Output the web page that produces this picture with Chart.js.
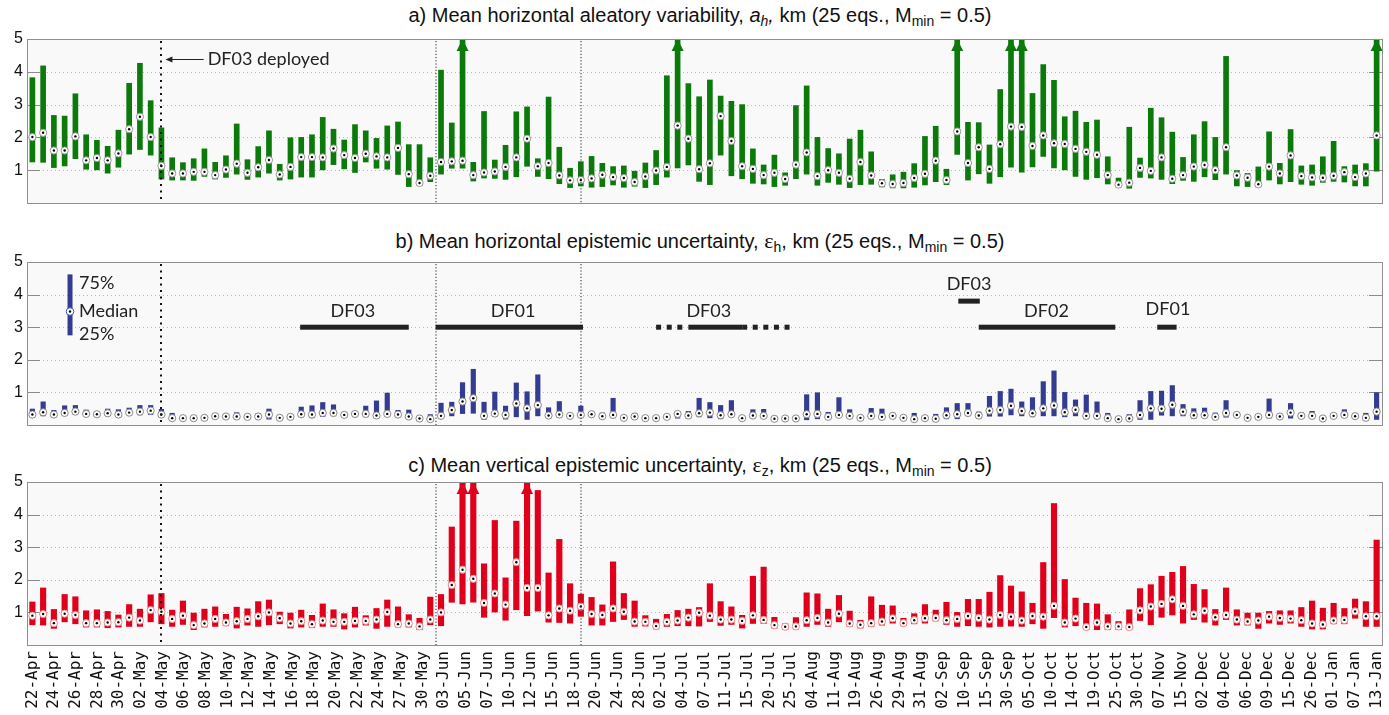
<!DOCTYPE html>
<html>
<head>
<meta charset="utf-8">
<script src="https://cdn.jsdelivr.net/npm/chart.js@4.4.1/dist/chart.umd.min.js"></script>
<style>
body{margin:0;background:#fff;width:1389px;height:715px;overflow:hidden;position:relative;font-family:'Liberation Sans',Arial,sans-serif}
.ttl{position:absolute;left:0;width:1400px;text-align:center;font-size:20px;color:#111;line-height:24px;white-space:nowrap}
.ttl sub{font-size:70%;vertical-align:-4px;line-height:0}
.eps{font-family:'Liberation Serif','Times New Roman',serif;font-size:22px}
.box{position:absolute;left:0;width:1389px}
</style>
</head>
<body>
<div class="ttl" style="top:3px">a) Mean horizontal aleatory variability, <i>a<sub>h</sub>,</i> km (25 eqs., M<sub>min</sub> = 0.5)</div>
<div class="ttl" style="top:229px">b) Mean horizontal epistemic uncertainty, <span class="eps">ε</span><sub>h</sub>, km (25 eqs., M<sub>min</sub> = 0.5)</div>
<div class="ttl" style="top:453px">c) Mean vertical epistemic uncertainty, <span class="eps">ε</span><sub>z</sub>, km (25 eqs., M<sub>min</sub> = 0.5)</div>
<div class="box" style="top:31px;height:180px"><canvas id="cA" width="1389" height="180"></canvas></div>
<div class="box" style="top:254px;height:179px"><canvas id="cB" width="1389" height="179"></canvas></div>
<div class="box" style="top:474px;height:241px"><canvas id="cC" width="1389" height="241"></canvas></div>
<script>
// tick labels, spread evenly from the first to the last bar
const tickLabels = ['22-Apr','24-Apr','26-Apr','28-Apr','30-Apr','02-May','04-May','06-May','08-May','10-May',
  '12-May','14-May','16-May','18-May','20-May','22-May','24-May','27-May','30-May','03-Jun',
  '05-Jun','07-Jun','10-Jun','12-Jun','15-Jun','18-Jun','20-Jun','24-Jun','28-Jun','02-Jul',
  '04-Jul','07-Jul','11-Jul','15-Jul','20-Jul','25-Jul','04-Aug','11-Aug','19-Aug','26-Aug',
  '29-Aug','31-Aug','02-Sep','10-Sep','15-Sep','30-Sep','05-Oct','10-Oct','14-Oct','19-Oct',
  '25-Oct','30-Oct','07-Nov','15-Nov','02-Dec','04-Dec','06-Dec','09-Dec','15-Dec','26-Dec',
  '01-Jan','07-Jan','13-Jan'];
const yTicks = [1,2,3,4,5];

// a) aleatory variability a_h : 25%, median, 75%  (values above 5 are drawn as arrows)
const ahLo = [1.25,1.24,1.08,1.13,1.35,1.03,1.01,0.91,1.09,1.49,1.63,1.46,0.73,0.70,0.70,0.69,0.81,0.73,0.78,0.88,
  0.72,0.79,0.91,0.70,0.73,0.79,0.79,1.01,1.17,1.04,0.93,1.25,1.06,1.03,0.87,0.50,0.53,0.65,0.88,1.06,
  1.06,0.67,0.76,0.75,0.72,0.80,1.12,0.81,0.74,0.59,0.47,0.52,0.48,0.50,0.55,0.48,0.51,0.47,0.56,0.79,
  1.07,1.16,0.66,0.56,1.46,0.83,0.74,0.60,0.58,0.50,0.54,0.74,0.88,0.54,0.63,0.57,0.47,0.56,0.57,0.49,
  0.46,0.46,0.48,0.55,0.65,0.56,1.48,0.70,0.89,0.60,0.80,1.09,0.94,1.10,1.42,1.07,1.01,0.81,0.72,0.77,
  0.58,0.49,0.45,0.78,0.76,0.72,0.59,0.69,0.66,0.80,0.71,0.88,0.52,0.50,0.49,0.70,0.58,0.65,0.57,0.54,
  0.63,0.66,0.64,0.52,0.52,0.97];
const ahMed = [2.01,2.14,1.60,1.60,2.03,1.30,1.37,1.30,1.51,2.25,2.63,2.01,1.13,0.90,0.90,0.95,0.95,0.85,1.02,1.20,
  0.92,1.09,1.31,0.87,1.10,1.40,1.40,1.39,1.66,1.46,1.37,1.50,1.42,1.39,1.68,0.88,0.61,0.83,1.25,1.27,
  1.29,0.85,0.93,0.96,1.10,1.39,1.96,1.12,1.22,0.84,0.69,0.70,0.75,0.86,0.79,0.76,0.64,0.81,0.99,1.10,
  2.36,1.96,1.03,1.21,2.65,1.89,1.12,1.04,0.85,0.92,0.73,1.17,1.54,0.82,1.00,0.92,0.74,1.25,0.84,0.60,
  0.58,0.61,0.76,0.89,1.29,0.70,2.18,1.22,1.70,1.04,1.79,2.33,2.32,1.74,2.06,1.82,1.80,1.65,1.56,1.47,
  0.85,0.56,0.62,1.07,0.98,1.39,0.74,0.85,1.11,1.16,1.00,1.70,0.84,0.77,0.57,1.11,0.90,1.45,0.82,0.78,
  0.77,0.83,0.94,0.79,0.90,2.06];
const ahHi = [3.82,4.18,2.67,2.65,3.33,2.08,1.91,1.73,2.22,3.65,4.26,3.12,2.29,1.38,1.23,1.35,1.65,1.24,1.44,2.41,
  1.32,1.72,2.20,1.18,1.99,2.00,2.08,2.61,2.25,1.92,2.39,2.20,1.97,2.35,2.47,1.78,1.78,1.38,4.05,2.44,
  6,1.24,2.79,1.31,1.76,2.78,2.93,1.35,3.23,1.70,1.06,1.26,1.42,1.21,1.11,1.13,0.97,1.22,1.60,3.88,
  6,3.64,3.24,3.75,3.26,3.10,3.00,1.65,1.16,1.46,0.92,2.97,3.57,2.00,1.66,1.50,1.95,2.22,1.56,0.72,
  0.86,0.94,1.20,2.03,2.34,1.03,6,2.46,2.45,1.77,3.46,6,6,3.34,4.22,3.74,2.63,2.80,2.46,2.53,
  1.41,0.76,2.31,1.37,2.89,2.60,2.16,1.39,2.08,2.48,2.00,4.47,0.99,0.90,1.10,2.17,1.21,2.24,1.13,1.16,
  1.41,1.88,1.11,1.16,1.20,6];

// b) horizontal epistemic uncertainty eps_h
const ehLo = [0.28,0.28,0.28,0.30,0.32,0.28,0.27,0.28,0.28,0.31,0.31,0.32,0.26,0.14,0.18,0.18,0.19,0.22,0.22,0.19,
  0.22,0.21,0.18,0.19,0.22,0.25,0.22,0.26,0.28,0.25,0.25,0.25,0.22,0.27,0.25,0.20,0.17,0.14,0.21,0.28,
  0.35,0.36,0.17,0.26,0.18,0.25,0.17,0.28,0.21,0.24,0.25,0.25,0.25,0.23,0.22,0.19,0.22,0.18,0.18,0.22,
  0.21,0.21,0.25,0.22,0.19,0.25,0.18,0.22,0.21,0.16,0.17,0.14,0.16,0.19,0.18,0.24,0.21,0.19,0.21,0.20,
  0.25,0.19,0.13,0.18,0.16,0.19,0.19,0.28,0.20,0.27,0.27,0.31,0.28,0.25,0.28,0.28,0.25,0.28,0.19,0.19,
  0.16,0.15,0.17,0.17,0.17,0.30,0.28,0.28,0.20,0.22,0.20,0.24,0.28,0.19,0.22,0.21,0.23,0.21,0.22,0.22,
  0.17,0.25,0.23,0.22,0.14,0.17];
const ehMed = [0.32,0.39,0.32,0.37,0.41,0.34,0.33,0.36,0.32,0.38,0.41,0.44,0.32,0.21,0.21,0.21,0.22,0.27,0.26,0.26,
  0.25,0.26,0.32,0.22,0.25,0.33,0.32,0.37,0.37,0.31,0.34,0.34,0.29,0.34,0.32,0.26,0.20,0.18,0.28,0.46,
  0.72,0.82,0.28,0.35,0.31,0.66,0.51,0.61,0.29,0.32,0.28,0.31,0.33,0.27,0.31,0.22,0.26,0.21,0.21,0.25,
  0.34,0.29,0.36,0.38,0.30,0.33,0.21,0.29,0.28,0.19,0.20,0.20,0.33,0.34,0.25,0.31,0.28,0.22,0.28,0.25,
  0.28,0.22,0.18,0.21,0.19,0.30,0.33,0.37,0.29,0.44,0.46,0.59,0.43,0.36,0.51,0.60,0.39,0.47,0.28,0.28,
  0.21,0.18,0.20,0.31,0.51,0.50,0.62,0.41,0.30,0.30,0.25,0.37,0.31,0.22,0.25,0.31,0.26,0.38,0.28,0.28,
  0.20,0.28,0.31,0.27,0.22,0.41];
const ehHi = [0.49,0.71,0.45,0.59,0.60,0.46,0.40,0.49,0.47,0.52,0.60,0.60,0.48,0.36,0.24,0.24,0.25,0.35,0.32,0.38,
  0.31,0.35,0.49,0.29,0.28,0.55,0.59,0.69,0.62,0.37,0.41,0.58,0.74,0.98,0.45,0.46,0.23,0.32,0.67,0.70,
  1.30,1.71,0.70,1.01,0.58,1.29,1.02,1.54,0.53,0.72,0.31,0.58,0.40,0.37,0.82,0.25,0.36,0.24,0.24,0.28,
  0.41,0.42,0.82,0.69,0.60,0.75,0.24,0.47,0.48,0.22,0.23,0.23,0.93,0.99,0.39,0.84,0.47,0.25,0.51,0.49,
  0.31,0.25,0.36,0.24,0.33,0.53,0.66,0.66,0.40,0.88,1.03,1.10,0.71,0.84,1.33,1.66,1.00,0.77,0.92,0.71,
  0.36,0.21,0.32,0.75,1.03,1.04,1.21,0.63,0.50,0.52,0.37,0.75,0.39,0.25,0.28,0.80,0.29,0.66,0.37,0.42,
  0.23,0.35,0.47,0.36,0.36,0.99];

// c) vertical epistemic uncertainty eps_z
const ezLo = [0.62,0.61,0.51,0.71,0.65,0.55,0.55,0.53,0.55,0.57,0.57,0.71,0.65,0.57,0.63,0.47,0.55,0.57,0.59,0.52,
  0.61,0.57,0.62,0.65,0.52,0.55,0.53,0.57,0.57,0.49,0.55,0.61,0.51,0.57,0.55,0.55,0.47,0.62,0.59,1.31,
  1.26,1.31,0.85,1.01,0.76,1.08,0.90,1.04,0.70,0.69,0.67,0.88,0.61,0.61,0.72,0.78,0.57,0.58,0.49,0.57,
  0.59,0.59,0.58,0.72,0.60,0.63,0.52,0.66,0.66,0.52,0.47,0.49,0.57,0.63,0.57,0.71,0.57,0.52,0.57,0.61,
  0.67,0.59,0.65,0.67,0.74,0.63,0.57,0.59,0.57,0.55,0.57,0.58,0.57,0.65,0.51,0.84,0.55,0.59,0.47,0.47,
  0.47,0.47,0.47,0.75,0.62,0.85,0.92,0.67,0.78,0.70,0.61,0.78,0.61,0.61,0.51,0.67,0.63,0.67,0.57,0.49,
  0.49,0.65,0.65,0.82,0.57,0.57];
const ezMed = [0.90,0.95,0.67,0.96,0.92,0.67,0.67,0.69,0.70,0.84,0.75,1.07,1.02,0.80,0.90,0.61,0.66,0.80,0.69,0.73,
  0.80,0.88,1.00,0.82,0.66,0.73,0.64,0.75,0.71,0.71,0.74,0.74,0.78,1.01,0.64,0.66,0.57,0.78,1.00,1.84,
  2.31,2.03,1.29,1.58,1.24,2.54,1.75,1.75,0.91,1.12,1.05,1.18,0.95,0.92,1.12,1.02,0.72,0.71,0.58,0.71,
  0.75,0.84,0.99,0.90,0.78,0.78,0.74,0.91,0.77,0.61,0.56,0.57,0.76,0.83,0.69,0.96,0.66,0.62,0.67,0.72,
  0.82,0.67,0.76,0.82,0.83,0.76,0.80,0.89,0.83,0.78,0.92,0.87,0.75,0.89,0.87,1.20,0.69,0.81,0.55,0.69,
  0.57,0.57,0.55,1.06,1.18,1.26,1.40,1.20,0.94,1.05,0.85,0.92,0.78,0.72,0.75,0.87,0.83,0.81,0.76,0.66,
  0.63,0.75,0.77,1.03,0.88,0.88];
const ezHi = [1.32,1.75,1.09,1.55,1.48,1.05,1.08,1.03,0.92,1.24,1.10,1.54,1.58,1.07,1.35,0.98,1.10,1.17,0.94,1.16,
  1.11,1.33,1.38,1.01,0.98,1.07,0.91,1.26,1.08,0.96,1.16,0.90,1.12,1.38,1.17,0.93,0.82,1.47,1.55,3.62,
  6,6,2.49,3.82,2.06,3.80,6,4.74,2.21,3.24,1.88,1.56,1.46,1.23,2.55,1.58,1.35,0.90,0.79,0.94,
  1.06,1.10,1.15,1.88,1.33,1.17,0.91,2.11,2.39,0.85,0.65,0.84,1.60,1.57,1.10,1.52,1.04,0.76,1.48,1.22,
  1.20,0.82,0.96,1.24,1.07,1.31,1.00,1.40,1.40,1.62,2.13,1.81,1.63,1.28,2.53,4.34,2.01,1.44,1.28,1.26,
  0.93,0.72,1.08,1.73,1.85,2.11,2.23,2.41,1.86,1.70,1.09,1.75,1.08,0.98,0.98,1.03,1.05,1.05,1.15,1.35,
  1.13,1.28,1.12,1.41,1.33,3.22];

// period markers (bar index) and station annotations for panel b
const markerLines = [12, 37.5, 51];
const stationBars = [
  {from:24.9, to:35.0, y:3.0, dash:false},
  {from:37.5, to:51.2, y:3.0, dash:false},
  {from:58.0, to:61.0, y:3.0, dash:true},
  {from:61.0, to:66.0, y:3.0, dash:false},
  {from:66.0, to:71.0, y:3.0, dash:true},
  {from:86.1, to:88.1, y:3.8, dash:false},
  {from:88.0, to:100.7, y:3.0, dash:false},
  {from:104.6, to:106.4, y:3.0, dash:false}
];
const stationLabels = [
  {x:29.8, y:3.48, text:'DF03'},
  {x:44.7, y:3.48, text:'DF01'},
  {x:62.9, y:3.48, text:'DF03'},
  {x:87.1, y:4.33, text:'DF03'},
  {x:94.3, y:3.48, text:'DF02'},
  {x:105.6, y:3.55, text:'DF01'}
];

const YMAX = 5;
const NBARS = ahLo.length;
const labelFont = '18px Lato, "Open Sans", sans-serif';

function framePlugin(extra) {
  return {
    id: 'frame',
    beforeDatasetsDraw(c) {
      const {ctx, chartArea: a} = c;
      const y = c.scales.y;
      ctx.save();
      ctx.fillStyle = '#f9f9f9';
      ctx.fillRect(a.left, a.top, a.width, a.height);
      ctx.lineWidth = 1;
      ctx.strokeStyle = '#b8b8b8';
      ctx.setLineDash([1, 3]);
      yTicks.forEach(v => {
        if (v >= YMAX) return;
        const py = Math.round(y.getPixelForValue(v)) + 0.5;
        ctx.beginPath(); ctx.moveTo(a.left, py); ctx.lineTo(a.right, py); ctx.stroke();
      });
      ctx.setLineDash([]);
      ctx.strokeStyle = '#8a8a8a';
      yTicks.forEach(v => {
        const py = Math.round(y.getPixelForValue(v)) + 0.5;
        ctx.beginPath();
        ctx.moveTo(a.left, py); ctx.lineTo(a.left + 13, py);
        ctx.moveTo(a.right, py); ctx.lineTo(a.right - 13, py);
        ctx.stroke();
      });
      ctx.restore();
    },
    afterDatasetsDraw(c) {
      const {ctx, chartArea: a} = c;
      const x = c.scales.x;
      ctx.save();
      // period marker lines
      markerLines.forEach((m, k) => {
        const px = Math.round(x.getPixelForValue(m));
        ctx.fillStyle = k === 0 ? '#111' : '#444';
        const step = k === 0 ? 6.5 : 3.2;
        const sz = k === 0 ? 2 : 1.2;
        for (let py = a.top + 2; py < a.bottom; py += step) ctx.fillRect(px - sz / 2, py, sz, sz);
      });
      // arrows for values beyond the axis
      const ds = c.data.datasets[2];
      ctx.fillStyle = ds.backgroundColor;
      ds.data.forEach(d => {
        if (d.y[1] > YMAX) {
          const px = x.getPixelForValue(d.x);
          ctx.beginPath();
          ctx.moveTo(px, a.top);
          ctx.lineTo(px - 6, a.top + 12);
          ctx.lineTo(px + 6, a.top + 12);
          ctx.closePath(); ctx.fill();
        }
      });
      if (extra) extra(c);
      // frame
      ctx.strokeStyle = '#8f8f8f';
      ctx.lineWidth = 1;
      ctx.strokeRect(Math.round(a.left) + 0.5, Math.round(a.top) + 0.5, Math.round(a.width), Math.round(a.height));
      ctx.restore();
    }
  };
}

function deployedNote(c) {
  const {ctx} = c;
  const x = c.scales.x, y = c.scales.y;
  const py = Math.round(y.getPixelForValue(4.39)) + 0.5;
  const x0 = x.getPixelForValue(12) + 4;
  const tx = x.getPixelForValue(16.3);
  ctx.strokeStyle = '#222'; ctx.fillStyle = '#222'; ctx.lineWidth = 1;
  ctx.beginPath(); ctx.moveTo(x0 + 6, py); ctx.lineTo(tx - 4, py); ctx.stroke();
  ctx.beginPath(); ctx.moveTo(x0, py); ctx.lineTo(x0 + 7, py - 3); ctx.lineTo(x0 + 7, py + 3); ctx.closePath(); ctx.fill();
  ctx.font = labelFont; ctx.textAlign = 'left'; ctx.textBaseline = 'middle';
  ctx.fillText('DF03 deployed', tx, py);
}

function stationNotes(c) {
  const {ctx} = c;
  const x = c.scales.x, y = c.scales.y;
  ctx.fillStyle = '#222';
  stationBars.forEach(s => {
    const py = y.getPixelForValue(s.y);
    const x1 = x.getPixelForValue(s.from), x2 = x.getPixelForValue(s.to);
    if (s.dash) {
      for (let px = x1; px + 4 <= x2 + 0.5; px += 10.6) ctx.fillRect(px, py - 2.5, 5, 5);
    } else {
      ctx.fillRect(x1, py - 2.5, x2 - x1, 5);
    }
  });
  ctx.font = labelFont; ctx.textAlign = 'center'; ctx.textBaseline = 'middle';
  stationLabels.forEach(l => ctx.fillText(l.text, x.getPixelForValue(l.x), y.getPixelForValue(l.y)));
  // key: 25% / median / 75%
  const kx = x.getPixelForValue(3.5);
  const t = y.getPixelForValue(4.62), b = y.getPixelForValue(2.75), m = y.getPixelForValue(3.48);
  ctx.fillStyle = '#343c92';
  ctx.fillRect(kx - 2.5, t, 5, b - t);
  ctx.beginPath(); ctx.arc(kx, m, 3.8, 0, Math.PI * 2); ctx.fillStyle = '#fff'; ctx.fill();
  ctx.strokeStyle = '#3a55d0'; ctx.lineWidth = 1; ctx.stroke();
  ctx.beginPath(); ctx.arc(kx, m, 1.2, 0, Math.PI * 2); ctx.fillStyle = '#000'; ctx.fill();
  ctx.fillStyle = '#222'; ctx.textAlign = 'left';
  ctx.fillText('75%', kx + 9, y.getPixelForValue(4.34));
  ctx.fillText('Median', kx + 9, m);
  ctx.fillText('25%', kx + 9, y.getPixelForValue(2.80));
}

function makeChart(id, lo, med, hi, color, ring, bw, showX, extra) {
  const medPts = med.map((v, i) => ({x: i, y: v}));
  return new Chart(document.getElementById(id), {
    data: {
      datasets: [
        {type: 'line', data: medPts, showLine: false, pointRadius: 1.2, pointBackgroundColor: '#000', pointBorderWidth: 0, order: 0},
        {type: 'line', data: medPts, showLine: false, pointRadius: 3.6, pointBackgroundColor: '#fff', pointBorderColor: ring, pointBorderWidth: 1, order: 1},
        {type: 'bar', data: lo.map((v, i) => ({x: i, y: [v, hi[i]]})), backgroundColor: color, barThickness: bw, order: 2}
      ]
    },
    options: {
      responsive: false, animation: false, devicePixelRatio: 1,
      layout: {padding: {top: 8, right: 7, bottom: showX ? 2 : 8, left: 0}},
      plugins: {legend: {display: false}, tooltip: {enabled: false}},
      scales: {
        x: {
          type: 'linear', min: -0.5, max: NBARS - 0.5, offset: false, display: showX,
          grid: {display: false, drawTicks: false, offset: false}, border: {display: false},
          afterBuildTicks: s => {
            s.ticks = tickLabels.map((_, k) => ({value: k * (NBARS - 1) / (tickLabels.length - 1)}));
          },
          ticks: {
            autoSkip: false, minRotation: 90, maxRotation: 90, padding: 6,
            font: {family: 'DejaVu Sans Mono', size: 16}, color: '#111',
            callback: (v, i) => tickLabels[i]
          },
          afterFit: s => { if (showX) s.height = 68; s.paddingLeft = 0; s.paddingRight = 0; }
        },
        y: {
          min: 0, max: YMAX,
          grid: {display: false, drawTicks: false}, border: {display: false},
          ticks: {stepSize: 1, padding: 4, font: {family: 'Liberation Sans', size: 16}, color: '#111',
            callback: v => v === 0 ? '' : v},
          afterFit: s => { s.width = 27; s.paddingTop = 0; s.paddingBottom = 0; }
        }
      }
    },
    plugins: [framePlugin(extra)]
  });
}

makeChart('cA', ahLo, ahMed, ahHi, '#0b7a0b', '#9a9a9a', 5, false, deployedNote);
makeChart('cB', ehLo, ehMed, ehHi, '#343c92', '#8a8a8a', 4.5, false, stationNotes);
makeChart('cC', ezLo, ezMed, ezHi, '#e0001b', '#f08a8a', 5.5, true, null);
</script>
</body>
</html>
